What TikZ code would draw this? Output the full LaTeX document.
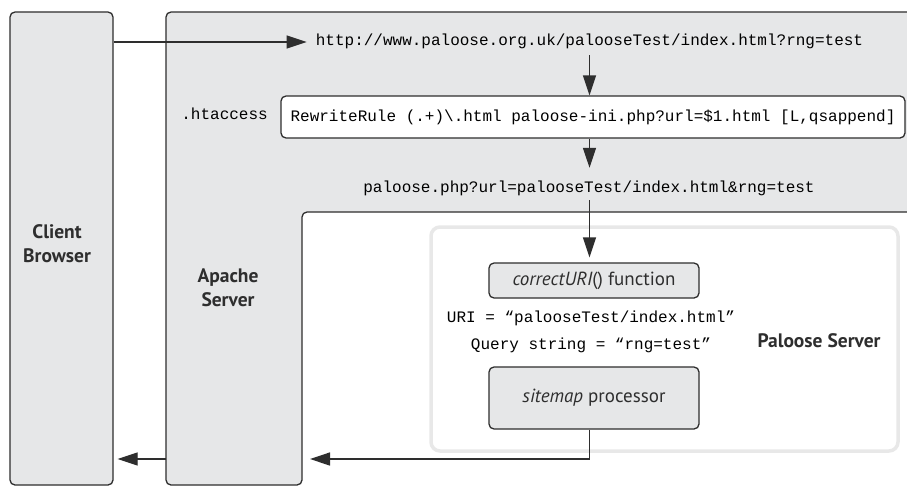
\documentclass[tikz,border=0pt]{standalone}
\usepackage{fontspec}
\setmainfont{PT Sans}
\newfontfamily\monofam{Liberation Mono}
\usetikzlibrary{arrows.meta}
\definecolor{boxgray}{HTML}{E6E7E8}
\definecolor{ink}{HTML}{2E2E2E}
\definecolor{palborder}{HTML}{E8E8E8}
\begin{document}
\begin{tikzpicture}[x=1pt,y=-1pt,
  code/.style={font=\monofam\fontsize{16}{19}\selectfont, text=black, inner sep=0pt, text height=12pt, text depth=4pt},
  lab/.style={font=\fontsize{19.5}{24}\selectfont\bfseries, align=center, text=ink},
  fnbox/.style={draw=ink, line width=1.3pt, rounded corners=5pt, fill=boxgray, font=\fontsize{19}{22}\selectfont, inner sep=0pt, text=ink},
  column/.style={draw=ink, line width=1.3pt, rounded corners=5pt, fill=boxgray, inner sep=0pt},
  arr/.style={draw=ink, line width=1.3pt, -{Triangle[length=20pt,width=13pt]}},
  ]
\clip (0,0) rectangle (907,487);
\fill[white] (0,0) rectangle (907,487);
% Apache server area (L shape)
\draw[ink, line width=1.3pt, fill=boxgray, rounded corners=5pt]
  (940,12) -- (166,12) -- (166,485) -- (302,485) -- (302,212) -- (940,212);
\coordinate (apL) at (166,459);
\coordinate (ret) at (310,459);
% Client browser column
\node[column, minimum width=103pt, minimum height=473pt] (client) at (61.5,248.5) {};
\node[lab] (clientlab) at (57,244) {Client\\Browser};
\node[lab] (apachelab) at (228,288) {Apache\\Server};
% Paloose server frame
\node[draw=palborder, line width=3.5pt, rounded corners=9pt, minimum width=467pt, minimum height=224pt, inner sep=0pt] (paloose) at (664.5,339) {};
\node[lab] (palooselab) at (819,341) {Paloose Server};
% texts
\node[code] (url) at (589.5,42) {http://www.paloose.org.uk/palooseTest/index.html?rng=test};
\node[code, anchor=east] (ht) at (268,115) {.htaccess};
\node[code, draw=ink, line width=1.3pt, rounded corners=5pt, fill=white, minimum width=624pt, minimum height=42pt] (rewrite) at (593,117) {RewriteRule (.+)\textbackslash.html paloose-ini.php?url=\$1.html [L,qsappend]};
\node[code] (php) at (589,188) {paloose.php?url=palooseTest/index.html\&rng=test};
\node[fnbox, minimum width=210pt, minimum height=35pt] (correct) at (594,280.5) {{\itshape correctURI}() function};
\node[code] (uri) at (591,318) {URI = “palooseTest/index.html”};
\node[code] (query) at (591,345) {Query string = “rng=test”};
\node[fnbox, minimum width=210pt, minimum height=62pt] (sitemap) at (594,398) {{\itshape sitemap} processor};
% connectors
\draw[arr] (url.west -| client.east) -- ([xshift=-9pt]url.west);
\draw[arr] ([yshift=-5pt]url.south) -- (url.south |- rewrite.north);
\draw[arr, shorten >=12pt] (url.south |- rewrite.south) -- (url.south |- php.north);
\draw[arr, shorten >=5pt] ([yshift=-4pt]url.south |- php.south) -- (url.south |- correct.north);
\draw[arr] (url.south |- sitemap.south) |- (ret);
\draw[arr, shorten >=4pt] (apL) -- (client.east |- apL);
\end{tikzpicture}
\end{document}
